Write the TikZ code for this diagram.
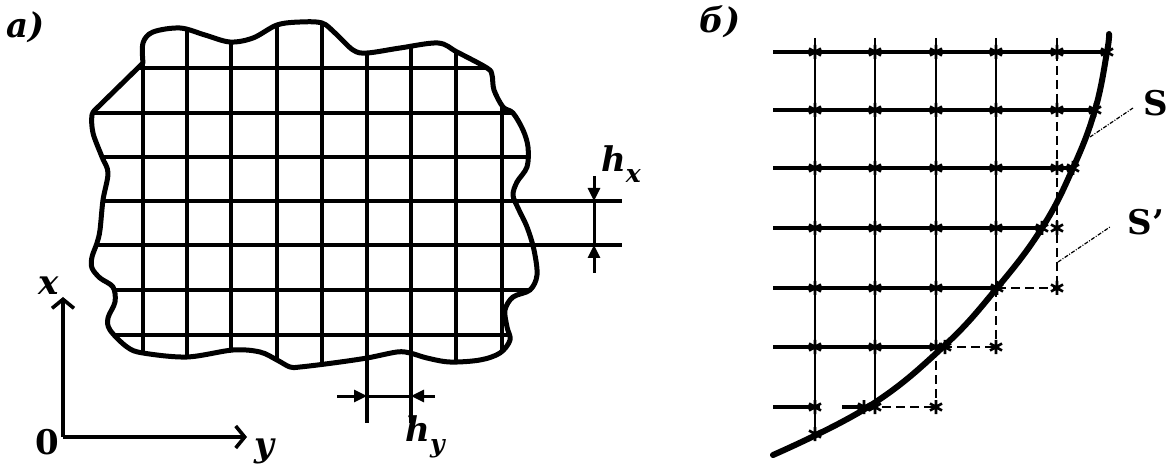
\documentclass[tikz,border=0pt]{standalone}
\usepackage{fontspec}
\setmainfont{DejaVu Serif}
\usetikzlibrary{arrows.meta}
\begin{document}
\begin{tikzpicture}[x=1pt,y=-1pt,
  lbl/.style={font=\fontsize{34}{38}\selectfont\bfseries\itshape, inner sep=0pt},
  ulbl/.style={font=\fontsize{34}{38}\selectfont\bfseries, inner sep=0pt},
  gridl/.style={line width=3.6pt},
  blob/.style={line width=5pt, line join=round},
  dimext/.style={line width=3.6pt},
  dimarr/.style={line width=3pt, -{Triangle[length=13pt,width=12pt]}},
  axisl/.style={line width=3.6pt, -{Straight Barb[length=9pt,width=22pt]}},
  rowl/.style={line width=3.6pt},
  coll/.style={line width=2.6pt},
  dashl/.style={line width=2.6pt, dash pattern=on 9pt off 5pt},
  curvel/.style={line width=6pt, line cap=round},
  lead/.style={line width=1.2pt, dash pattern=on 4pt off 1.5pt on 1pt off 1.5pt},
  astr/.pic={\draw[line width=2.6pt] (0,-7)--(0,7) (-6,-3.5)--(6,3.5) (-6,3.5)--(6,-3.5);}
]
\useasboundingbox (0,0) rectangle (1171,465);

% ---------- panel a ----------
\begin{scope}
\clip plot[smooth, tension=0.55] coordinates {(143,63) (143,43) (153,32) (180,28) (205,35) (230,42) (253,38) (277,25) (300,22) (322,23) (335,33) (353,50) (367,53) (400,48) (438,43) (457,52) (487,68) (492,75) (494,90) (503,107) (513,113) (523,130) (528,147) (527,167) (517,182) (513,195) (518,208) (527,227) (534,250) (537,275) (530,290) (513,297) (505,310) (507,327) (510,340) (500,353) (480,360) (450,362) (427,358) (410,353) (397,352) (367,358) (333,363) (300,367) (290,367) (277,360) (260,352) (233,350) (187,357) (143,353) (127,347) (110,330) (108,318) (115,302) (113,287) (100,278) (92,268) (92,257) (97,243) (100,230) (103,200) (108,173) (102,157) (93,133) (92,115) (97,108)} -- cycle;
\foreach \yy in {68,113,157,201,245,290,335} \draw[gridl] (80,\yy) -- (545,\yy);
\foreach \xx in {143,187,231,277,322,367,411,456,502} \draw[gridl] (\xx,15) -- (\xx,375);
\end{scope}
\draw[blob] plot[smooth, tension=0.55] coordinates {(143,63) (143,43) (153,32) (180,28) (205,35) (230,42) (253,38) (277,25) (300,22) (322,23) (335,33) (353,50) (367,53) (400,48) (438,43) (457,52) (487,68) (492,75) (494,90) (503,107) (513,113) (523,130) (528,147) (527,167) (517,182) (513,195) (518,208) (527,227) (534,250) (537,275) (530,290) (513,297) (505,310) (507,327) (510,340) (500,353) (480,360) (450,362) (427,358) (410,353) (397,352) (367,358) (333,363) (300,367) (290,367) (277,360) (260,352) (233,350) (187,357) (143,353) (127,347) (110,330) (108,318) (115,302) (113,287) (100,278) (92,268) (92,257) (97,243) (100,230) (103,200) (108,173) (102,157) (93,133) (92,115) (97,108)} -- cycle;

% h_x dimension
\coordinate (r1a) at (505,201); \coordinate (r1b) at (622,201);
\coordinate (r2a) at (520,245); \coordinate (r2b) at (622,245);
\draw[dimext] (r1a) -- (r1b);
\draw[dimext] (r2a) -- (r2b);
\coordinate (hxtop) at (594,176); \coordinate (hxt1) at (594,201);
\coordinate (hxbot) at (594,273); \coordinate (hxt2) at (594,245);
\draw[dimarr] (hxtop) -- (hxt1);
\draw[dimarr] (hxbot) -- (hxt2);
\draw[line width=3pt] (hxt1) -- (hxt2);
\node[lbl] (hx) at (621,164) {h\raisebox{-0.32em}{\fontsize{25}{28}\selectfont x}};

% h_y dimension
\coordinate (c1a) at (367,356); \coordinate (c1b) at (367,423);
\coordinate (c2a) at (411,354); \coordinate (c2b) at (411,423);
\draw[dimext] (c1a) -- (c1b);
\draw[dimext] (c2a) -- (c2b);
\coordinate (hyl) at (337,396); \coordinate (hyt1) at (367,396);
\coordinate (hyr) at (435,396); \coordinate (hyt2) at (411,396);
\draw[dimarr] (hyl) -- (hyt1);
\draw[dimarr] (hyr) -- (hyt2);
\draw[line width=3pt] (hyt1) -- (hyt2);
\node[lbl] (hy) at (425,437) {h\raisebox{-0.32em}{\fontsize{25}{28}\selectfont y}};

% axes
\coordinate (O) at (63,437);
\coordinate (xe) at (63,297);
\coordinate (ye) at (247,437);
\draw[axisl] (O) -- (xe);
\draw[axisl] (O) -- (ye);
\node[lbl] (xl) at (49,286) {x};
\node[ulbl] (zero) at (47,442) {0};
\node[lbl] (yl) at (264,451) {y};

\node[lbl] (la) at (26,27) {а)};
\node[lbl] (lb) at (720,22) {б)};

% ---------- panel b ----------
\foreach \yy/\xe in {52/1107,110/1095,168/1073,228/1042,288/997,347/943}
  \draw[rowl] (773,\yy) -- (\xe,\yy);
\draw[rowl] (773,407) -- (820,407);
\draw[rowl] (842,407) -- (868,407);
\foreach \xx/\ye in {815/433,875/407,936/347,996/288}
  \draw[coll] (\xx,38) -- (\xx,\ye);
\draw[dashl] (1057,38) -- (1057,288);
\draw[dashl] (997,288) -- (1057,288);
\draw[dashl] (996,288) -- (996,347);
\draw[dashl] (943,347) -- (996,347);
\draw[dashl] (936,347) -- (936,407);
\draw[dashl] (868,407) -- (936,407);

\draw[curvel] plot[smooth, tension=0.7] coordinates {(773,455) (868,407) (943,347) (997,288) (1042,228) (1073,168) (1095,110) (1107,52) (1109,34)};

\foreach \p in {(815,52),(875,52),(936,52),(996,52),(1057,52),(1107,52),
  (815,110),(875,110),(936,110),(996,110),(1057,110),(1095,110),
  (815,168),(875,168),(936,168),(996,168),(1057,168),(1073,168),
  (815,228),(875,228),(936,228),(996,228),(1042,228),(1057,228),
  (815,288),(875,288),(936,288),(997,288),(1057,288),
  (815,347),(875,347),(936,347),(945,347),(996,347),
  (815,407),(864,407),(875,407),(936,407),(815,434)}
  \pic at \p {astr};

\node[ulbl] (S) at (1156,103) {S};
\node[ulbl] (Sp) at (1146,222) {S’};
\coordinate (sa) at (1090,137); \coordinate (sb) at (1133,108);
\coordinate (spa) at (1058,262); \coordinate (spb) at (1110,227);
\draw[lead] (sa) -- (sb);
\draw[lead] (spa) -- (spb);
\end{tikzpicture}
\end{document}
